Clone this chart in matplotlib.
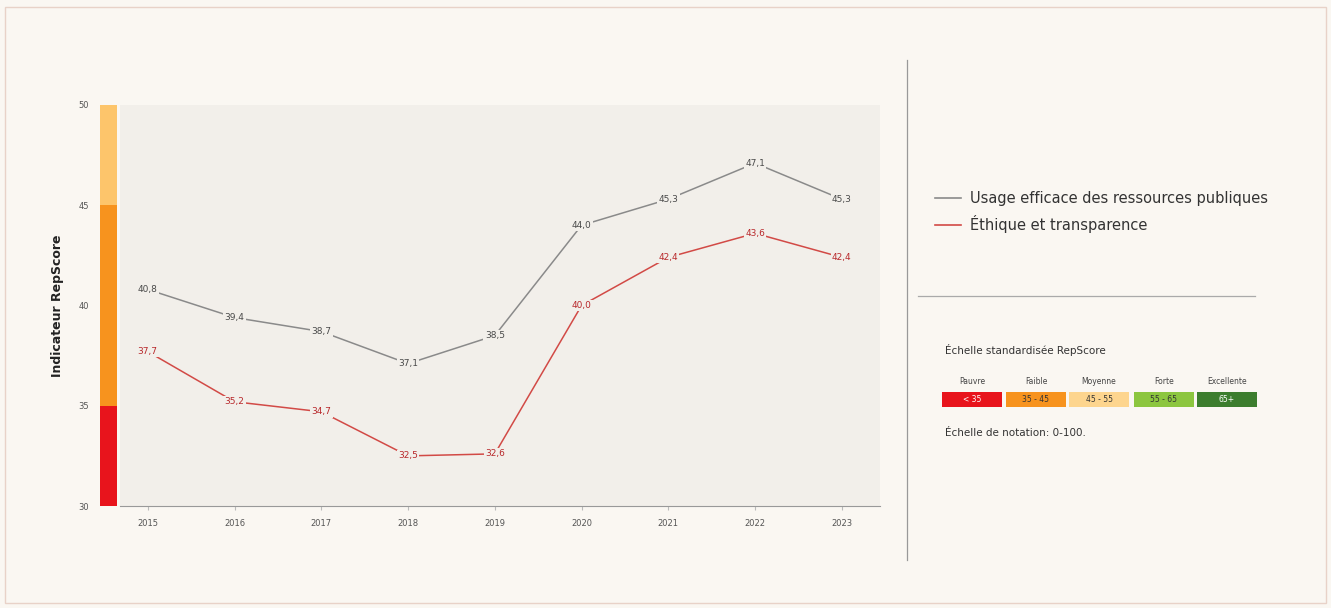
import numpy as np
import matplotlib
matplotlib.use("Agg")
import matplotlib.pyplot as plt
from matplotlib.lines import Line2D
from matplotlib.patches import Rectangle

# data
years = [2015, 2016, 2017, 2018, 2019, 2020, 2021, 2022, 2023]
usage = [40.8, 39.4, 38.7, 37.1, 38.5, 44.0, 45.3, 47.1, 45.3]
ethique = [37.7, 35.2, 34.7, 32.5, 32.6, 40.0, 42.4, 43.6, 42.4]
series_names = ["Usage efficace des ressources publiques", "Éthique et transparence"]

band_lo = [30, 35, 45]
band_hi = [35, 45, 50]
band_colors = ["#e8141c", "#f7931e", "#fdc56b"]

scale_names = ["Pauvre", "Faible", "Moyenne", "Forte", "Excellente"]
scale_ranges = ["< 35", "35 - 45", "45 - 55", "55 - 65", "65+"]
scale_colors = ["#e8141c", "#f7931e", "#fdd58e", "#8cc63f", "#3c7d2e"]

W, H = 1331, 608
fig = plt.figure(figsize=(W / 100, H / 100), dpi=100, facecolor="#faf7f2")

def fx(px):
    return px / W

def fy(py):
    return 1 - py / H

# figure border
fig.add_artist(Rectangle((fx(5), fy(603)), fx(1321), 596 / H, transform=fig.transFigure,
                         fill=False, edgecolor="#e8d2c8", lw=1))

# main plot
ax = fig.add_axes([fx(120), fy(506), fx(760), (506 - 105) / H])
ax.set_facecolor("#f2efea")
ax.plot(years, usage, color="#8a8a8a", lw=1.1)
ax.plot(years, ethique, color="#d24a46", lw=1.1)
for x, y in zip(years, usage):
    ax.text(x, y, f"{y:.1f}".replace(".", ","), ha="center", va="center", fontsize=6.5,
            color="#4a4a4a", bbox=dict(boxstyle="square,pad=0.15", fc="#f2efea", ec="none"))
for x, y in zip(years, ethique):
    ax.text(x, y, f"{y:.1f}".replace(".", ","), ha="center", va="center", fontsize=6.5,
            color="#b8282b", bbox=dict(boxstyle="square,pad=0.15", fc="#f2efea", ec="none"))
ax.set_xlim(2014.68, 2023.44)
ax.set_ylim(30, 50)
ax.set_xticks(years)
ax.set_xticklabels([str(y) for y in years], fontsize=6, color="#555555")
ax.set_yticks([])
for s in ["top", "right", "left"]:
    ax.spines[s].set_visible(False)
ax.spines["bottom"].set_color("#999999")
ax.tick_params(axis="x", length=3, color="#bbbbbb", pad=6)

# coloured band on the left
bax = fig.add_axes([fx(100), fy(506), fx(17), (506 - 105) / H])
bax.bar([0] * 3, [h - l for l, h in zip(band_lo, band_hi)], bottom=band_lo,
        color=band_colors, width=1.0)
bax.set_xlim(-0.5, 0.5)
bax.set_ylim(30, 50)
bax.set_xticks([])
bax.set_yticks([30, 35, 40, 45, 50])
bax.tick_params(axis="y", length=0, labelsize=6, labelcolor="#555555", pad=8)
for s in bax.spines.values():
    s.set_visible(False)
bax.set_ylabel("Indicateur RepScore", fontsize=9, fontweight="bold", color="#222222", labelpad=10)

# right panel
fig.add_artist(Line2D([fx(907), fx(907)], [fy(60), fy(560)], transform=fig.transFigure,
                      color="#999999", lw=0.9))
fig.add_artist(Line2D([fx(918), fx(1255)], [fy(296), fy(296)], transform=fig.transFigure,
                      color="#aaaaaa", lw=0.9))

handles = [Line2D([], [], color="#8a8a8a", lw=1.2), Line2D([], [], color="#d24a46", lw=1.2)]
fig.legend(handles, series_names, loc="upper left", bbox_to_anchor=(fx(922), fy(178)),
           frameon=False, fontsize=10.5, handlelength=1.8, handletextpad=0.6,
           labelspacing=0.6, labelcolor="#333333")

fig.text(fx(945), fy(350), "Échelle standardisée RepScore", fontsize=7.5, color="#333333",
         va="center")
box_x = [942, 1006, 1069, 1134, 1197]
for i, (n, r, c) in enumerate(zip(scale_names, scale_ranges, scale_colors)):
    x0 = box_x[i]
    fig.add_artist(Rectangle((fx(x0), fy(407)), fx(60), 15 / H, transform=fig.transFigure,
                             facecolor=c, edgecolor="none"))
    fig.text(fx(x0 + 30), fy(382), n, fontsize=5.5, color="#444444", ha="center", va="center")
    tc = "#ffffff" if i in (0, 4) else "#333333"
    fig.text(fx(x0 + 30), fy(399.5), r, fontsize=5.5, color=tc, ha="center", va="center")
fig.text(fx(945), fy(433), "Échelle de notation: 0-100.", fontsize=7.5, color="#333333",
         va="center")

fig.savefig("out.png", dpi=100, facecolor=fig.get_facecolor())
